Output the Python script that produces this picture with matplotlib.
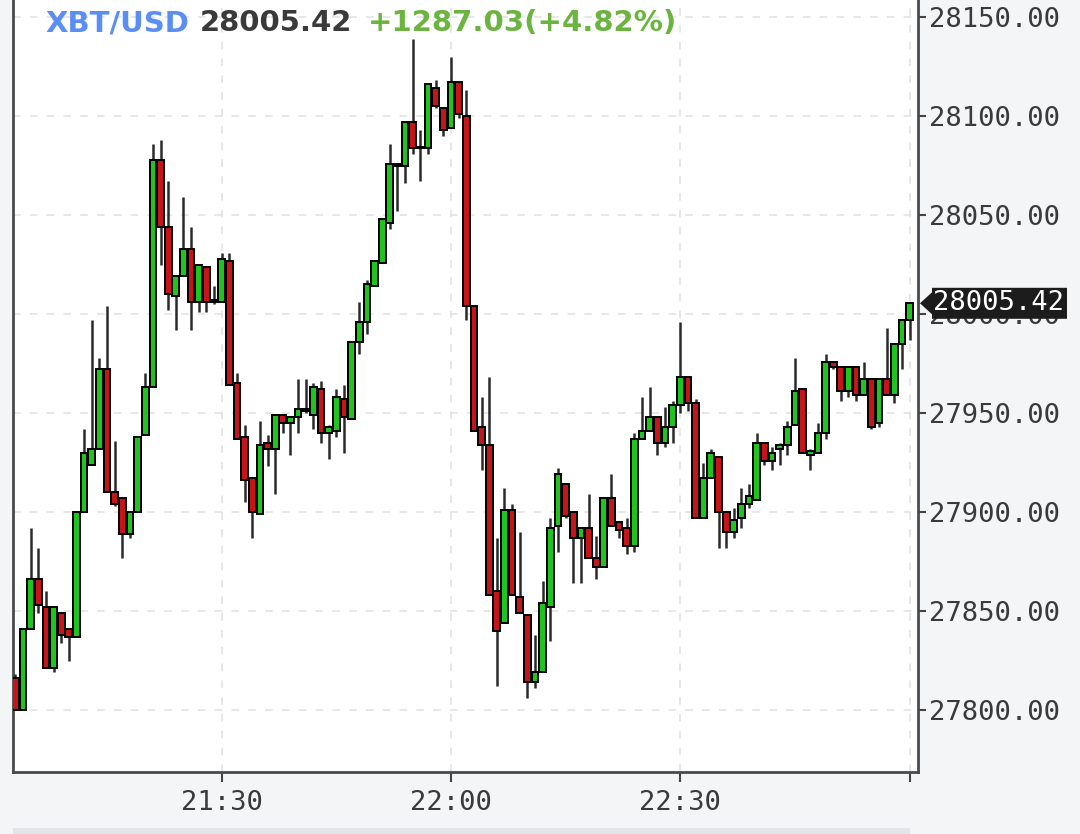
import numpy as np
import pandas as pd
import matplotlib
matplotlib.use("Agg")
import matplotlib.pyplot as plt
import matplotlib.dates as mdates
from matplotlib.patches import Polygon, Rectangle

# 1-minute XBT/USD candles, 21:03 -> 23:00
start_time = "2023-03-24 21:03"
opens = [27816, 27800, 27841, 27866, 27852, 27821, 27849, 27841, 27837, 27900,
         27924, 27932, 27972, 27910, 27907, 27889, 27900, 27939, 27963, 28078,
         28044, 28009, 28019, 28033, 28006, 28024, 28006, 28006, 28027, 27965,
         27938, 27917, 27899, 27935, 27932, 27949, 27945, 27948, 27952, 27949,
         27962, 27940, 27941, 27957, 27947, 27986, 27996, 28014, 28026, 28046,
         28075.5, 28075, 28097, 28084, 28084, 28114, 28104, 28094, 28117, 28100,
         28004, 27943, 27934, 27860, 27844, 27901, 27857, 27848, 27814, 27819,
         27852, 27893, 27914, 27900, 27887, 27892, 27877, 27872, 27907, 27895,
         27892, 27883, 27937, 27941, 27948, 27935, 27943, 27954, 27968, 27955,
         27897, 27917, 27928, 27900, 27890, 27897, 27904, 27906, 27935, 27926,
         27932, 27934, 27944, 27962, 27929, 27930, 27940, 27976, 27973, 27961,
         27973, 27959, 27967, 27945, 27967, 27959, 27985, 27997]
highs = [27818, 27841, 27892, 27882, 27860, 27852, 27849, 27841, 27900, 27942,
         27997, 27978, 28004, 27936, 27907, 27900, 27938, 27970, 28086, 28088,
         28067, 28019, 28059, 28044, 28025, 28024, 28014, 28031, 28031, 27970,
         27944, 27917, 27946, 27939, 27949, 27949, 27948, 27967, 27967, 27965,
         27966, 27944, 27962, 27964, 27986, 28006, 28017, 28027, 28048, 28086,
         28076, 28097, 28139, 28093, 28116, 28118, 28104, 28130, 28117, 28113,
         28004, 27958, 27968, 27887, 27912, 27904, 27890, 27848, 27838, 27865,
         27897, 27922, 27914, 27900, 27892, 27909, 27888, 27907, 27919, 27895,
         27897, 27940, 27958, 27963, 27948, 27953, 27956, 27996, 27968, 27957,
         27925, 27932, 27928, 27900, 27902, 27912, 27914, 27940, 27935, 27933,
         27935, 27946, 27978, 27962, 27932, 27945, 27980, 27976, 27973, 27973,
         27973, 27976, 27967, 27967, 27993, 27985, 27997, 28006]
lows = [27800, 27800, 27841, 27849, 27821, 27819, 27834, 27825, 27837, 27900,
        27924, 27932, 27910, 27903, 27877, 27887, 27900, 27939, 27963, 28025,
        28002, 27992, 28019, 27992, 28001, 28001, 28005, 28006, 27964, 27937,
        27905, 27887, 27899, 27923, 27909, 27940, 27929, 27940, 27950, 27942,
        27935, 27927, 27938, 27930, 27947, 27980, 27990, 28014, 28026, 28043,
        28052, 28066, 28081, 28067, 28081, 28104, 28090, 28094, 28099, 27997,
        27941, 27921, 27858, 27812, 27844, 27858, 27849, 27806, 27811, 27819,
        27835, 27880, 27897, 27864, 27864, 27877, 27866, 27872, 27893, 27887,
        27879, 27880, 27937, 27941, 27929, 27933, 27935, 27950, 27951, 27897,
        27897, 27917, 27882, 27882, 27887, 27892, 27902, 27906, 27924, 27921,
        27924, 27929, 27944, 27930, 27921, 27930, 27937, 27972, 27956, 27958,
        27956, 27959, 27942, 27943, 27959, 27955, 27972, 27987]
closes = [27800, 27841, 27866, 27853, 27821, 27852, 27838, 27837, 27900, 27930,
          27932, 27972, 27910, 27904, 27889, 27900, 27938, 27963, 28078, 28044,
          28010, 28019, 28033, 28006, 28025, 28006, 28007, 28028, 27964, 27937,
          27916, 27900, 27934, 27932, 27949, 27945, 27948, 27952, 27951, 27963,
          27940, 27943, 27958, 27948, 27986, 27996, 28015, 28027, 28048, 28076,
          28075, 28097, 28084, 28084, 28116, 28105, 28093, 28117, 28101, 28004,
          27941, 27934, 27858, 27840, 27901, 27858, 27849, 27814, 27819, 27854,
          27892, 27919, 27898, 27887, 27892, 27877, 27872, 27907, 27893, 27891,
          27883, 27937, 27941, 27948, 27935, 27943, 27954, 27968, 27955, 27897,
          27917, 27930, 27900, 27890, 27896, 27904, 27908, 27935, 27926, 27930,
          27934, 27943, 27961, 27930, 27931, 27940, 27976, 27973, 27961, 27973,
          27959, 27967, 27943, 27967, 27959, 27985, 27997, 28005.42]

yticks = [27800, 27850, 27900, 27950, 28000, 28050, 28100, 28150]
xtick_times = ["2023-03-24 21:30", "2023-03-24 22:00", "2023-03-24 22:30", "2023-03-24 23:00"]
xtick_labels = ["21:30", "22:00", "22:30", ""]

last_price = "28005.42"
change_txt = "+1287.03(+4.82%)"

col_up = '#1fc41f'
col_down = '#c4161a'

fig = plt.figure(figsize=(10.8, 8.34), dpi=100, facecolor='#f4f5f7')
ax = fig.add_axes([13 / 1080, 62 / 834, 905 / 1080, 772 / 834])
ax.set_facecolor('white')

times = pd.date_range(start_time, periods=len(opens), freq="min")
x = mdates.date2num(times)
o = np.array(opens, dtype=float)
h = np.array(highs, dtype=float)
l = np.array(lows, dtype=float)
c = np.array(closes, dtype=float)

up = c >= o
colors = [col_up if u else col_down for u in up]
bottoms = np.minimum(o, c)
heights = np.maximum(np.abs(c - o), 0.6)

ax.vlines(x, l, h, color='#2a2a2a', linewidth=1.8, zorder=3)
ax.bar(x, heights, bottom=bottoms, width=0.88 / 1440, color=colors,
       edgecolor='black', linewidth=1.4, zorder=4)

# axes limits (minutes -> days)
ax.set_xlim(x[0] - 0.3 / 1440, x[-1] + 1.1 / 1440)
ax.set_ylim(27768.7, 28158.6)

ax.set_yticks(yticks)
ax.set_yticklabels([f"{v:.2f}" for v in yticks])
ax.yaxis.tick_right()
xt = mdates.date2num(pd.to_datetime(xtick_times))
ax.set_xticks(xt)
ax.set_xticklabels(xtick_labels)

ax.tick_params(axis='y', direction='out', length=6, width=1.5, color='#444444',
               labelsize=19.5, labelcolor='#3a3a3a', pad=2)
ax.tick_params(axis='x', direction='out', length=7, width=1.5, color='#444444',
               labelsize=19.5, labelcolor='#3a3a3a', pad=6)
for lab in ax.get_yticklabels() + ax.get_xticklabels():
    lab.set_family('DejaVu Sans Mono')

ax.grid(True, linestyle=(0, (5, 6)), color='#e0e0e0', linewidth=1.1, zorder=0)
ax.set_axisbelow(True)

ax.spines['top'].set_visible(False)
for s in ['left', 'right', 'bottom']:
    ax.spines[s].set_color('#4a4a4a')
    ax.spines[s].set_linewidth(2)

# title line
ty = 1 - 31 / 834
fig.text(45 / 1080, ty, "XBT/USD", color='#5b8ef2', fontsize=21, fontweight='bold', va='baseline')
fig.text(200 / 1080, ty, last_price, color='#3a3a3a', fontsize=21, fontweight='bold', va='baseline')
fig.text(368 / 1080, ty, change_txt, color='#6ab43f', fontsize=21, fontweight='bold', va='baseline')

# last price marker on the right axis
fig.canvas.draw()
py = ax.transData.transform((x[-1], closes[-1]))[1]
px = ax.transAxes.transform((1, 0))[0]
box = Polygon([[px + 2, py], [px + 14, py + 11], [px + 14, py + 15.5], [px + 149, py + 15.5],
               [px + 149, py - 15.5], [px + 14, py - 15.5], [px + 14, py - 11]],
              closed=True, transform=None, facecolor='#1c1c1c', edgecolor='none', zorder=10)
fig.add_artist(box)
fig.text((px + 15) / 1080, py / 834, last_price, color='white', fontsize=19.5,
         family='DejaVu Sans Mono', va='center', ha='left', zorder=11)

# scrollbar strip at bottom
fig.add_artist(Rectangle((13 / 1080, 0), 897 / 1080, 6 / 834, transform=fig.transFigure,
                         facecolor='#e3e4e8', edgecolor='none'))

fig.savefig("out.png", dpi=100, facecolor=fig.get_facecolor())
